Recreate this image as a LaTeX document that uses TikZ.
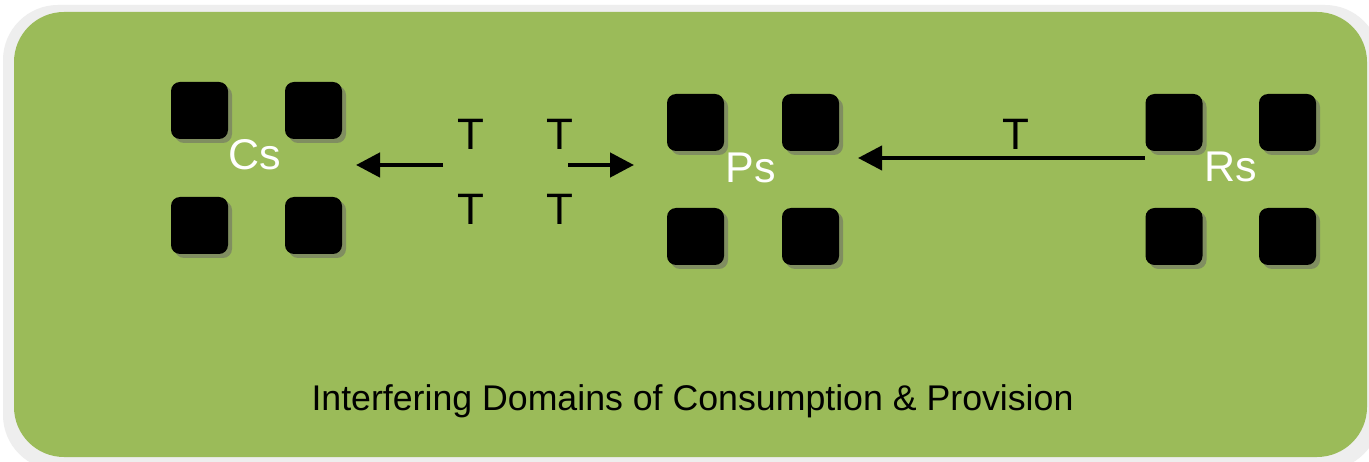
\documentclass[tikz,border=0pt]{standalone}
\usepackage{fontspec}
\setmainfont{Liberation Sans}
\usetikzlibrary{arrows.meta}
\definecolor{bggreen}{RGB}{155,187,89}
\definecolor{framegray}{RGB}{238,238,238}
\definecolor{shadowc}{RGB}{128,142,96}
\tikzset{
  blk/.style={fill=black, rounded corners=9pt, minimum width=57pt, minimum height=57pt, inner sep=0pt, outer sep=0pt,
    preaction={fill=shadowc, transform canvas={shift={(4pt,-4pt)}}}},
  grp/.style={text=white, font=\fontsize{43}{43}\selectfont, anchor=base, inner sep=0pt},
  tlab/.style={text=black, font=\fontsize{44}{44}\selectfont, anchor=base, inner sep=0pt},
  arr/.style={line width=4.5pt, -{Triangle[length=24pt,width=24pt]}}
}
\begin{document}
\begin{tikzpicture}[x=1pt,y=-1pt]
\useasboundingbox (0,0) rectangle (1369,462);
\fill[white] (0,0) rectangle (1369,462);
\fill[framegray, rounded corners=55pt] (3,5) rectangle (1380,470);
\fill[bggreen, rounded corners=50pt] (14,12) rectangle (1367,457);

% Cs group
\node[blk] (c1) at (199.5,110.5) {};
\node[blk] (c2) at (313.5,110.5) {};
\node[blk] (c3) at (199.5,225.5) {};
\node[blk] (c4) at (313.5,225.5) {};
\node[grp] (cs) at (255,170) {Cs};

% Ps group
\node[blk] (p1) at (695.5,122.5) {};
\node[blk] (p2) at (810.5,122.5) {};
\node[blk] (p3) at (695.5,236.5) {};
\node[blk] (p4) at (810.5,236.5) {};
\node[grp] (ps) at (751,183) {Ps};

% Rs group
\node[blk] (r1) at (1174,122.5) {};
\node[blk] (r2) at (1287.5,122.5) {};
\node[blk] (r3) at (1174,236.5) {};
\node[blk] (r4) at (1287.5,236.5) {};
\node[grp] (rs) at (1231,182) {Rs};

% T labels
\node[tlab] (t1) at (471,150) {T};
\node[tlab] (t2) at (560,150) {T};
\node[tlab] (t3) at (471,225) {T};
\node[tlab] (t4) at (560,225) {T};
\node[tlab] (t5) at (1016,150) {T};

% arrows
\coordinate (la) at (443,165);
\coordinate (lb) at (356,165);
\coordinate (ra) at (568,165);
\coordinate (rb) at (634,165);
\coordinate (ma) at (1145,158);
\coordinate (mb) at (858,158);
\draw[arr] (la) -- (lb);
\draw[arr] (ra) -- (rb);
\draw[arr, line width=4pt] (ma) -- (mb);

\node[text=black, font=\fontsize{35.7}{36}\selectfont, anchor=base, inner sep=0pt] (title) at (692.5,410) {Interfering Domains of Consumption \& Provision};
\end{tikzpicture}
\end{document}
